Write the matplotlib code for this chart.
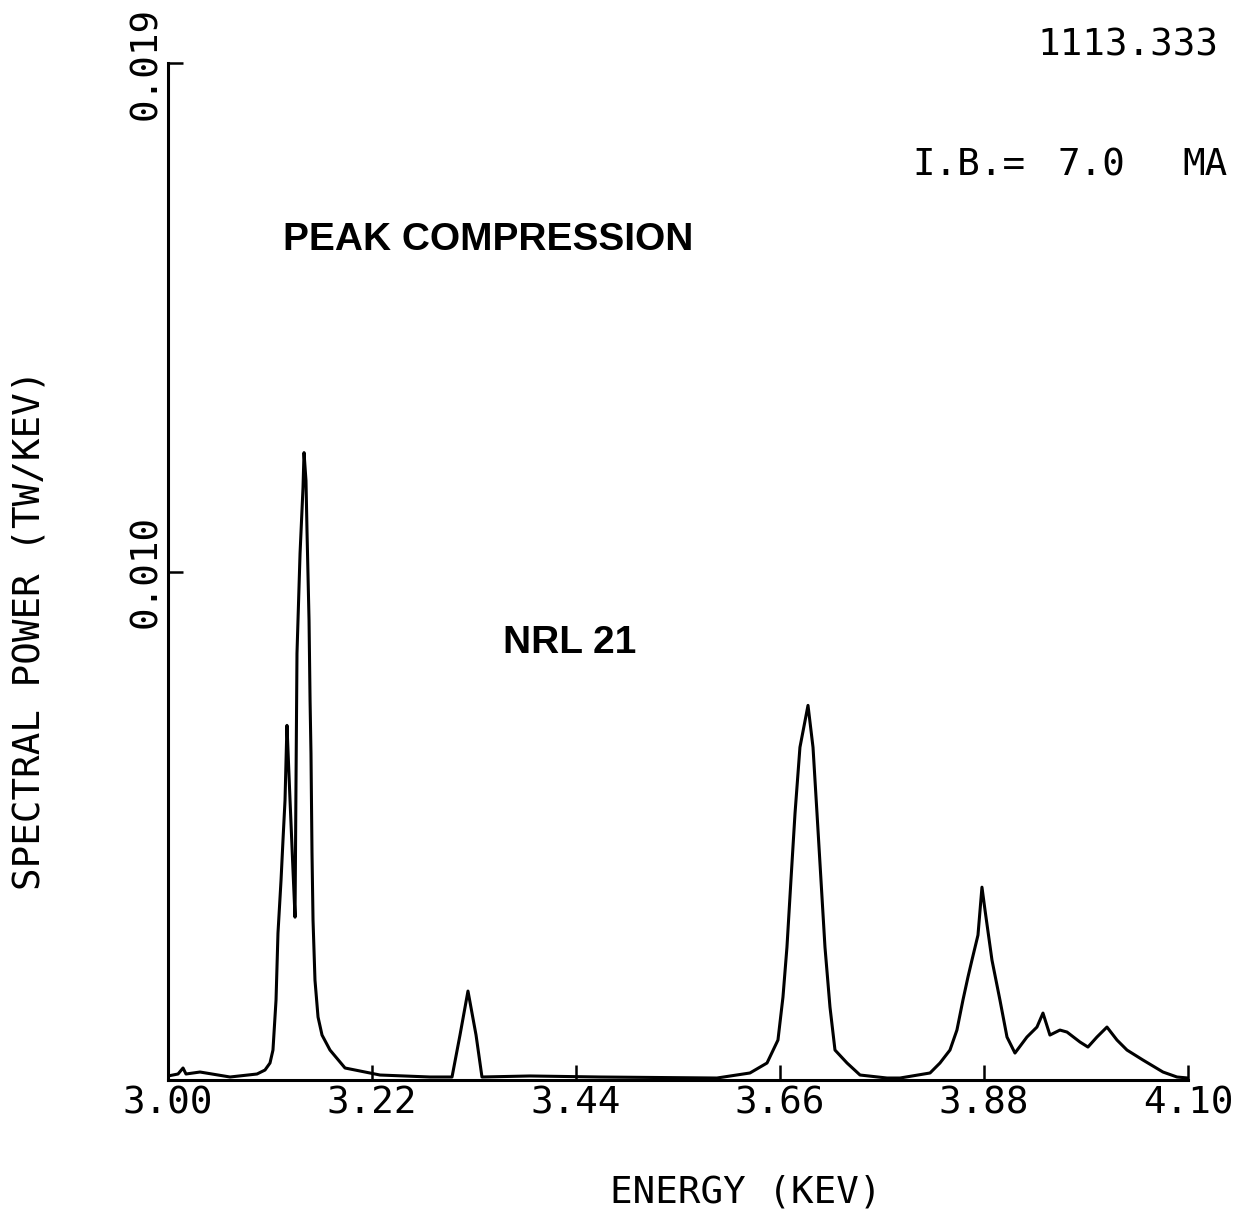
import matplotlib.pyplot as plt

# --- data (energy in keV, spectral power in TW/keV) ---
energia = [3.000, 3.0108, 3.0162, 3.0194, 3.0345, 3.0669, 3.0960, 3.1046, 3.1100, 3.1132,
           3.1165, 3.1186, 3.1219, 3.1240, 3.1262, 3.1273, 3.1283, 3.1316, 3.1348, 3.1370,
           3.1380, 3.1391, 3.1424, 3.1456, 3.1467, 3.1488, 3.1499, 3.1521, 3.1532, 3.1542,
           3.1553, 3.1564, 3.1585, 3.1618, 3.1661, 3.1747, 3.1909, 3.2286, 3.2825, 3.3063,
           3.3149, 3.3235, 3.3322, 3.3386, 3.3904, 3.4659, 3.5920, 3.6276, 3.6460, 3.6578,
           3.6632, 3.6675, 3.6718, 3.6762, 3.6815, 3.6902, 3.6956, 3.6999, 3.7042, 3.7085,
           3.7139, 3.7193, 3.7323, 3.7463, 3.7754, 3.7894, 3.8218, 3.8325, 3.8433, 3.8508,
           3.8573, 3.8627, 3.8670, 3.8735, 3.8778, 3.8811, 3.8886, 3.8972, 3.9048, 3.9134,
           3.9263, 3.9371, 3.9436, 3.9511, 3.9619, 3.9695, 3.9835, 3.9921, 4.0018, 4.0126,
           4.0234, 4.0342, 4.0514, 4.0730, 4.0881, 4.1000]
potencia = [0.000079, 0.000118, 0.000236, 0.000118, 0.000157, 0.000059, 0.000118, 0.000196, 0.000334, 0.000589,
            0.001572, 0.002888, 0.003929, 0.004715, 0.005501, 0.006287, 0.006974, 0.005501, 0.004126, 0.003202,
            0.005756, 0.008389, 0.010353, 0.011650, 0.012338, 0.011788, 0.010805, 0.009037, 0.007466, 0.006424,
            0.004460, 0.003143, 0.001965, 0.001238, 0.000884, 0.000589, 0.000236, 0.000098, 0.000059, 0.000059,
            0.000884, 0.001749, 0.000884, 0.000059, 0.000079, 0.000059, 0.000039, 0.000138, 0.000334, 0.000786,
            0.001631, 0.002613, 0.003929, 0.005245, 0.006542, 0.007367, 0.006542, 0.005245, 0.003929, 0.002613,
            0.001434, 0.000589, 0.000334, 0.000098, 0.000039, 0.000039, 0.000138, 0.000334, 0.000589, 0.000982,
            0.001572, 0.002024, 0.002358, 0.002849, 0.003792, 0.003340, 0.002358, 0.001572, 0.000845, 0.000530,
            0.000845, 0.001041, 0.001316, 0.000884, 0.000982, 0.000943, 0.000747, 0.000648, 0.000845, 0.001041,
            0.000786, 0.000589, 0.000393, 0.000157, 0.000059, 0.000039]

xticks = [3.00, 3.22, 3.44, 3.66, 3.88, 4.10]
xtick_labels = ['3.00', '3.22', '3.44', '3.66', '3.88', '4.10']
yticks = [0.010, 0.020]
ytick_labels = ['0.010', '0.019']

mono = 'DejaVu Sans Mono'

fig = plt.figure(figsize=(12.42, 12.16), dpi=100)
ax = fig.add_axes([168 / 1242, 1 - 1080 / 1216, 1020 / 1242, 1017 / 1216])

ax.plot(energia, potencia, color='black', linewidth=2.2, solid_joinstyle='round')

ax.set_xlim(3.0, 4.1)
ax.set_ylim(0, 0.020)

for lado in ['top', 'right']:
    ax.spines[lado].set_visible(False)
for lado in ['left', 'bottom']:
    ax.spines[lado].set_linewidth(2.2)

ax.set_xticks(xticks)
ax.set_xticklabels(xtick_labels, fontsize=27, family=mono)
ax.set_yticks(yticks)
ax.set_yticklabels(ytick_labels, fontsize=27, family=mono, rotation=90, va='center')
ax.tick_params(axis='both', direction='in', length=11, width=1.8)
ax.tick_params(axis='x', pad=4)
ax.tick_params(axis='y', pad=3)

# textos
fig.text(30 / 1242, 1 - 630 / 1216, 'SPECTRAL POWER (TW/KEV)', rotation=90,
         ha='center', va='center', fontsize=27, family=mono)
fig.text(746 / 1242, 1 - 1193 / 1216, 'ENERGY (KEV)', ha='center', va='center',
         fontsize=27, family=mono)
fig.text(1218 / 1242, 1 - 45 / 1216, '1113.333', ha='right', va='center',
         fontsize=27, family=mono)
fig.text(912 / 1242, 1 - 165 / 1216, 'I.B.=', ha='left', va='center', fontsize=27, family=mono)
fig.text(1058 / 1242, 1 - 165 / 1216, '7.0', ha='left', va='center', fontsize=27, family=mono)
fig.text(1182 / 1242, 1 - 165 / 1216, 'MA', ha='left', va='center', fontsize=27, family=mono)
fig.text(283 / 1242, 1 - 240 / 1216, 'PEAK COMPRESSION', ha='left', va='center',
         fontsize=28, family='Liberation Sans', fontweight='bold')
fig.text(503 / 1242, 1 - 643 / 1216, 'NRL 21', ha='left', va='center',
         fontsize=28, family='Liberation Sans', fontweight='bold')

plt.savefig('out.png', dpi=100, facecolor='white')
